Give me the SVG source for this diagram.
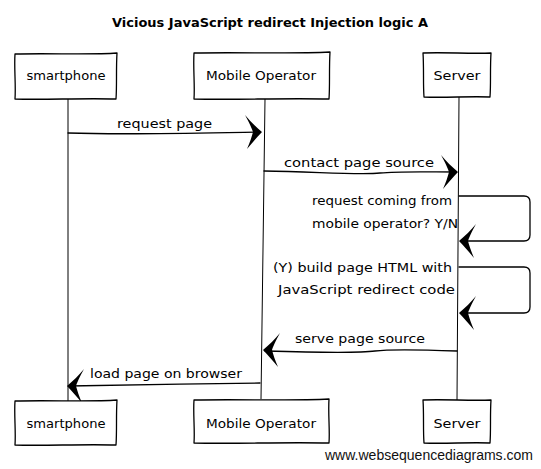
<svg xmlns="http://www.w3.org/2000/svg" width="541" height="469" viewBox="0 0 541 469">
<style>
  .box { fill: #ffffff; stroke: #000000; stroke-width: 1.3; stroke-linejoin: round; }
  .line { fill: none; stroke: #000000; stroke-width: 1.3; stroke-linecap: round; }
  .life { fill: none; stroke: #000000; stroke-width: 1; }
  .lbl { font-family: "DejaVu Sans", "Liberation Sans", sans-serif; font-size: 13px; fill: #000000; }
  .name { font-family: "DejaVu Sans", "Liberation Sans", sans-serif; font-size: 13px; fill: #000000; text-anchor: middle; }
  .title { font-family: "DejaVu Sans", "Liberation Sans", sans-serif; font-size: 13px; font-weight: bold; fill: #000000; }
  .wm { font-family: "Liberation Sans", Arial, sans-serif; font-size: 14px; fill: #111111; }
</style>
<defs>
  <path id="head" d="M0,0 C-6,-5 -12,-11 -17,-17 C-12,-8 -10,-3 -9,0 C-10,4 -12,10 -15,17 C-10,11 -5,5 0,0 Z" fill="#000000"/>
</defs>
<rect width="541" height="469" fill="#ffffff"/>

<text class="title" x="112" y="27" textLength="316" lengthAdjust="spacingAndGlyphs">Vicious JavaScript redirect Injection logic A</text>

<g id="connectors">
  <path class="life" d="M68,99 L68,401"/>
  <path class="life" d="M265,99 L261,399"/>
  <path class="life" d="M459,97 L457,400"/>

  <path class="line" d="M68,133 C130,135 200,133 260,132"/>
  <use href="#head" x="262" y="132"/>

  <path class="line" d="M264,171 C320,172 360,175 380,173 C400,171 430,172 456,172"/>
  <use href="#head" x="458" y="172"/>

  <path class="line" d="M459,196 L524,196 Q530,196 530,202 L530,235 Q530,241 524,241 L461,241"/>
  <use href="#head" transform="translate(459,241) scale(-1,1)"/>

  <path class="line" d="M459,267 L524,267 Q530,267 530,273 L530,307 Q530,313 524,313 L461,313"/>
  <use href="#head" transform="translate(459,313) scale(-1,1)"/>

  <path class="line" d="M457,351 C430,350 390,349 375,351 C360,353 300,352 265,351"/>
  <use href="#head" transform="translate(263,350) scale(-1,1)"/>

  <path class="line" d="M260,383 C200,384 120,385 69,386"/>
  <use href="#head" transform="translate(67,386) scale(-1,1)"/>

  <text class="lbl" x="117" y="128" textLength="95" lengthAdjust="spacingAndGlyphs">request page</text>
  <text class="lbl" x="284" y="167" textLength="150" lengthAdjust="spacingAndGlyphs">contact page source</text>
  <text class="lbl" x="312" y="205" textLength="140" lengthAdjust="spacingAndGlyphs">request coming from</text>
  <text class="lbl" x="312" y="228" textLength="146" lengthAdjust="spacingAndGlyphs">mobile operator? Y/N</text>
  <text class="lbl" x="273" y="272" textLength="179" lengthAdjust="spacingAndGlyphs">(Y) build page HTML with</text>
  <text class="lbl" x="278" y="294" textLength="177" lengthAdjust="spacingAndGlyphs">JavaScript redirect code</text>
  <text class="lbl" x="295" y="343" textLength="130" lengthAdjust="spacingAndGlyphs">serve page source</text>
  <text class="lbl" x="90" y="378" textLength="152" lengthAdjust="spacingAndGlyphs">load page on browser</text>
</g>

<g id="smartphone-top">
  <path class="box" d="M15,54 C50,53 90,55 117,53 C116,68 117,85 116,99 C80,98 45,100 15,99 C16,85 14,68 15,54 Z"/>
  <text class="name" x="66" y="80" textLength="79" lengthAdjust="spacingAndGlyphs">smartphone</text>
</g>
<g id="operator-top">
  <path class="box" d="M194,53 C240,52 290,54 330,52 C329,68 330,85 329,99 C280,98 235,100 194,99 C195,85 193,68 194,53 Z"/>
  <text class="name" x="261" y="80" textLength="110" lengthAdjust="spacingAndGlyphs">Mobile Operator</text>
</g>
<g id="server-top">
  <path class="box" d="M423,53 C445,52 470,54 491,53 C490,68 491,84 490,97 C470,96 445,98 424,97 C423,84 424,68 423,53 Z"/>
  <text class="name" x="457" y="80" textLength="47" lengthAdjust="spacingAndGlyphs">Server</text>
</g>

<g id="smartphone-bottom">
  <path class="box" d="M15,401 C50,400 90,402 117,400 C116,415 117,432 116,445 C80,444 45,446 15,445 C16,432 14,415 15,401 Z"/>
  <text class="name" x="66" y="428" textLength="79" lengthAdjust="spacingAndGlyphs">smartphone</text>
</g>
<g id="operator-bottom">
  <path class="box" d="M194,400 C240,399 290,401 329,399 C328,414 330,430 329,443 C280,442 235,444 194,443 C195,430 193,414 194,400 Z"/>
  <text class="name" x="261" y="428" textLength="110" lengthAdjust="spacingAndGlyphs">Mobile Operator</text>
</g>
<g id="server-bottom">
  <path class="box" d="M423,400 C445,399 470,401 491,400 C490,414 491,430 490,443 C470,442 445,444 424,443 C423,430 424,414 423,400 Z"/>
  <text class="name" x="457" y="428" textLength="47" lengthAdjust="spacingAndGlyphs">Server</text>
</g>

<text class="wm" x="325" y="460" textLength="208" lengthAdjust="spacingAndGlyphs">www.websequencediagrams.com</text>
</svg>
